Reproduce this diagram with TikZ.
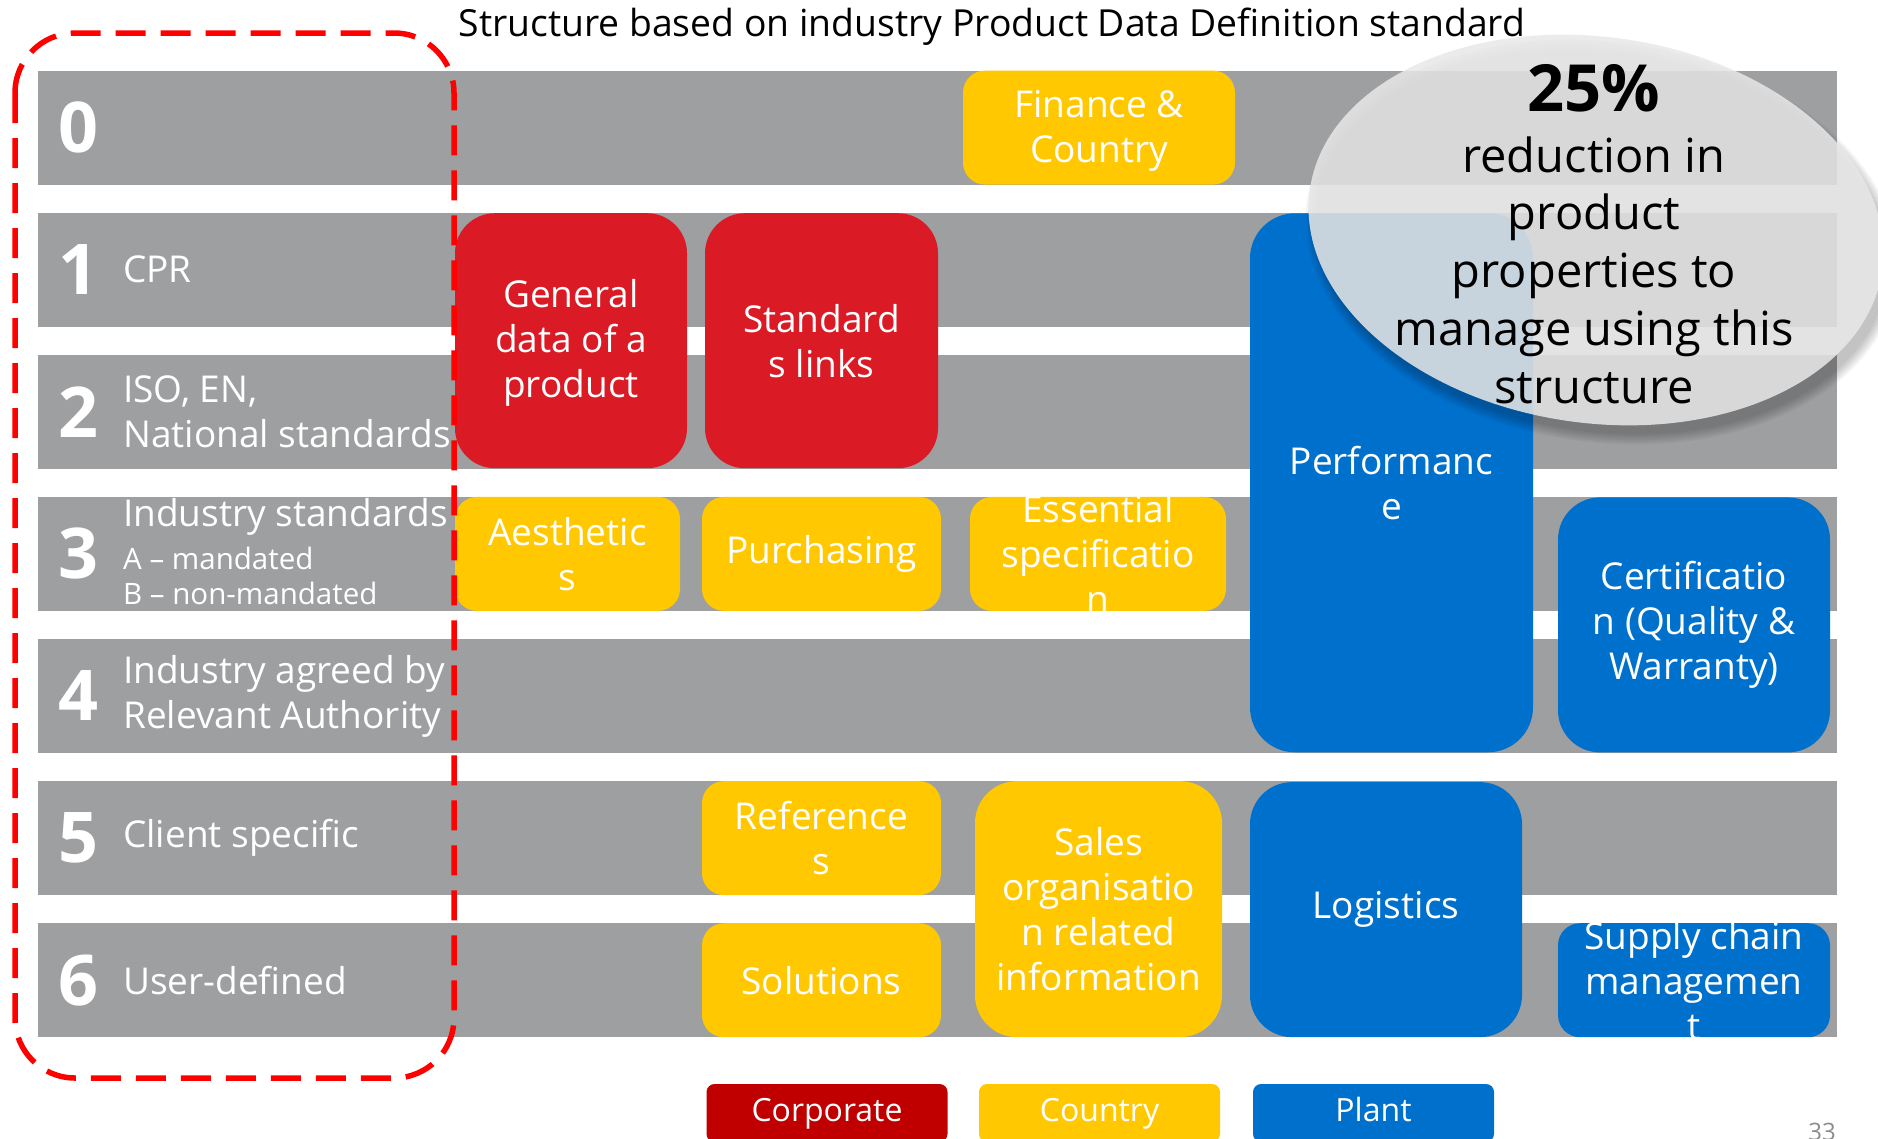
\documentclass[tikz,border=0pt]{standalone}
\usepackage{fontspec}
\setmainfont{Open Sans}
\usetikzlibrary{shapes,positioning}

\definecolor{barGray}{HTML}{9E9FA1}
\definecolor{corpRed}{HTML}{DA1A24}
\definecolor{legRed}{HTML}{C00000}
\definecolor{ctryYellow}{HTML}{FFC800}
\definecolor{plantBlue}{HTML}{0070CD}

\begin{document}
\begin{tikzpicture}[x=1pt,y=1pt,
	bar/.style={fill=barGray,inner sep=0pt,minimum width=1799pt,minimum height=114pt},
	lvl/.style={text=white,inner sep=0pt,font=\fontsize{70}{70}\selectfont\bfseries},
	lbl/.style={text=white,anchor=west,align=left,inner sep=0pt,font=\fontsize{37}{45}\selectfont},
	sublbl/.style={lbl,font=\fontsize{29.5}{35}\selectfont},
	tile/.style={inner sep=0pt,text=white,align=center,font=\fontsize{37}{45}\selectfont},
	corp/.style={tile,fill=corpRed},
	ctry/.style={tile,fill=ctryYellow},
	plant/.style={tile,fill=plantBlue},
	leg/.style={tile,minimum width=241pt,minimum height=58pt,rounded corners=8pt,text height=23pt,text depth=7pt,font=\fontsize{32}{36}\selectfont}]

	\useasboundingbox (0,0) rectangle (1878,-1138);

		% Title
		\node (title) at (992,-27) {\fontsize{37.3}{40}\selectfont Structure based on industry Product Data Definition standard};

		% Levels
		\node[bar] (r0) at (937.5,-127.6) {};
		\node[bar] (r1) at (937.5,-269.7) {};
		\node[bar] (r2) at (937.5,-411.8) {};
		\node[bar] (r3) at (937.5,-553.9) {};
		\node[bar] (r4) at (937.5,-696.0) {};
		\node[bar] (r5) at (937.5,-838.1) {};
		\node[bar] (r6) at (937.5,-980.2) {};

		\node[lvl] (d0) at (78,-127.6) {0};
		\node[lvl] (d1) at (78,-269.7) {1};
		\node[lvl] (d2) at (78,-411.8) {2};
		\node[lvl] (d3) at (78,-553.9) {3};
		\node[lvl] (d4) at (78,-696.0) {4};
		\node[lvl] (d5) at (78,-838.1) {5};
		\node[lvl] (d6) at (78,-980.2) {6};

		\node[lbl] (lbl1) at (123,-269.7) {CPR};
		\node[lbl] (lbl2) at (123,-411.8) {ISO, EN,\\National standards};
		\node[lbl] (lbl3) at (123,-517) {Industry standards};
		\node[sublbl] (lbl3a) at (123,-558) {A – mandated};
		\node[sublbl] (lbl3b) at (123,-593) {B – non-mandated};
		\node[lbl] (lbl4) at (123,-696.0) {Industry agreed by\\Relevant Authority};
		\node[lbl] (lbl5) at (123,-838.1) {Client specific};
		\node[lbl] (lbl6) at (123,-980.2) {User-defined};

		% Properties
		\node[ctry,minimum width=272pt,minimum height=114pt,rounded corners=22pt] (fin) at (1099,-127.6) {};
		\node[tile] (fin-txt) at (1099,-131) {Finance \&\\Country};
		\node[corp,minimum width=232pt,minimum height=255pt,rounded corners=40pt] (gen) at (571,-340.7) {};
		\node[tile] (gen-txt) at (571,-343) {General\\data of a\\product};
		\node[corp,minimum width=233pt,minimum height=255pt,rounded corners=40pt] (stdl) at (821.5,-340.7) {Standard\\s links};
		\node[plant,minimum width=283pt,minimum height=539pt,rounded corners=45pt] (perf) at (1391.5,-482.8) {Performanc\\e};
		\node[ctry,minimum width=225pt,minimum height=114pt,rounded corners=22pt] (aes) at (567.5,-553.9) {Aesthetic\\s};
		\node[ctry,minimum width=239pt,minimum height=114pt,rounded corners=22pt] (purch) at (821.5,-553.9) {Purchasing};
		\node[ctry,minimum width=256pt,minimum height=114pt,rounded corners=22pt] (ess) at (1098,-553.9) {};
		\node[tile] (ess-txt) at (ess) {Essential\\specificatio\\n};
		\node[plant,minimum width=272pt,minimum height=255pt,rounded corners=42pt] (cert) at (1694,-624.9) {Certificatio\\n (Quality \&\\Warranty)};
		\node[ctry,minimum width=239pt,minimum height=114pt,rounded corners=22pt] (refs) at (821.5,-838.1) {Reference\\s};
		\node[ctry,minimum width=239pt,minimum height=114pt,rounded corners=22pt] (sols) at (821.5,-980.2) {Solutions};
		\node[ctry,minimum width=247pt,minimum height=256pt,rounded corners=42pt] (sales) at (1098.5,-909.1) {Sales\\organisatio\\n related\\information};
		\node[plant,minimum width=272pt,minimum height=255pt,rounded corners=42pt] (logi) at (1386,-909.6) {Logistics};
		\node[plant,minimum width=272pt,minimum height=114pt,rounded corners=22pt] (scm) at (1694,-980.2) {};
		\node[tile] (scm-txt) at (scm) {Supply chain\\managemen\\t};

		% Level frame
		\draw[red,line width=5.5pt,dash pattern=on 30pt off 15pt,rounded corners=60pt] (15,-33) rectangle (454,-1078);

		% Callout
		\foreach \k in {0,...,5}
			\fill[black,opacity=0.045] (1602,-242) ellipse [x radius=288+2*\k, y radius=190+2*\k, rotate=-8];
		\node[ellipse,fill=black!9,fill opacity=0.86,inner sep=0pt,minimum width=578pt,minimum height=386pt,rotate=-8] (callout) at (1596,-230) {};
		\node[font=\fontsize{65}{65}\selectfont\bfseries] (pct) at (1594,-88) {25\%};
		\node[align=center,font=\fontsize{47}{57.75}\selectfont] (cut) at (1594,-270) {reduction in\\product\\properties to\\manage using this\\structure};

		% Legend
		\node[leg,fill=legRed] (lcorp) at (827,-1113) {Corporate};
		\node[leg,fill=ctryYellow] (lctry) at (1099.5,-1113) {Country};
		\node[leg,fill=plantBlue] (lplant) at (1373.5,-1113) {Plant};

		\node[text=black!45,anchor=north,font=\fontsize{24}{24}\selectfont] (pg) at (1822,-1120) {33};

	\end{tikzpicture}
\end{document}
